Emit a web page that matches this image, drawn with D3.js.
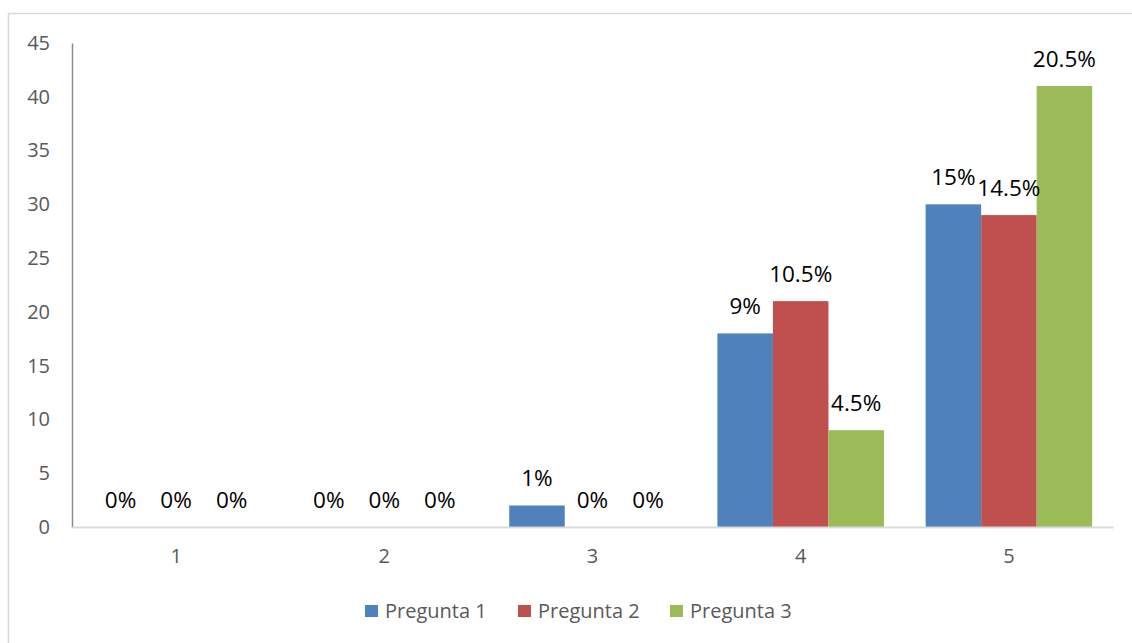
<!DOCTYPE html>
<html>
<head>
<meta charset="utf-8">
<script src="https://cdn.jsdelivr.net/npm/d3@7"></script>
<style>
  html, body { margin: 0; padding: 0; background: #fff; }
  svg { display: block; }
</style>
</head>
<body>
<svg id="chart" width="1132" height="643"></svg>
<script>
// Answer scale points and the number of responses per question
const categories = ["1", "2", "3", "4", "5"];
const seriesNames = ["Pregunta 1", "Pregunta 2", "Pregunta 3"];
const pregunta1 = [0, 0, 2, 18, 30];
const pregunta2 = [0, 0, 0, 21, 29];
const pregunta3 = [0, 0, 0, 9, 41];
const yTicks = [0, 5, 10, 15, 20, 25, 30, 35, 40, 45];
const totalResponses = 200;

const seriesValues = [pregunta1, pregunta2, pregunta3];
const colors = ["#4f81bd", "#c0504d", "#9bbb59"];

const svg = d3.select("#chart");
const font = "'Open Sans', 'Noto Sans', sans-serif";

// outer chart frame
svg.append("rect")
  .attr("x", 8.5).attr("y", 13.5)
  .attr("width", 1140).attr("height", 640)
  .attr("fill", "none").attr("stroke", "#d9d9d9").attr("stroke-width", 1.5);

const plot = { left: 72, right: 1113, top: 43, bottom: 527 };

const x0 = d3.scaleBand().domain(categories)
  .range([plot.left, plot.right]).paddingInner(0.2).paddingOuter(0.1);
const x1 = d3.scaleBand().domain(d3.range(seriesNames.length))
  .range([0, x0.bandwidth()]);
const y = d3.scaleLinear().domain([0, 45]).range([plot.bottom, plot.top]);

// y axis
const yAxis = svg.append("g")
  .attr("transform", `translate(${plot.left},0)`)
  .call(d3.axisLeft(y).tickValues(yTicks).tickSize(0).tickPadding(22));
yAxis.select(".domain").attr("stroke", "#8c8c8c").attr("stroke-width", 1.5);
yAxis.selectAll("text").attr("fill", "#595959")
  .style("font-family", font).style("font-size", "20px");

// bars
const groups = svg.append("g").selectAll("g")
  .data(categories).join("g")
  .attr("transform", d => `translate(${x0(d)},0)`);

groups.selectAll("rect")
  .data((c, ci) => seriesValues.map((vals, si) => ({ si, v: vals[ci] })))
  .join("rect")
  .attr("x", d => x1(d.si))
  .attr("width", x1.bandwidth())
  .attr("y", d => y(d.v))
  .attr("height", d => plot.bottom - y(d.v))
  .attr("fill", d => colors[d.si]);

// value labels as share of all responses
groups.selectAll("text")
  .data((c, ci) => seriesValues.map((vals, si) => ({ si, v: vals[ci] })))
  .join("text")
  .attr("x", d => x1(d.si) + x1.bandwidth() / 2)
  .attr("y", d => y(d.v) - 19)
  .attr("text-anchor", "middle")
  .attr("fill", "#000")
  .style("font-family", font).style("font-size", "22.5px")
  .text(d => d3.format("~r")(d.v / totalResponses * 100) + "%");

// x axis
const xAxis = svg.append("g")
  .attr("transform", `translate(0,${plot.bottom})`)
  .call(d3.axisBottom(x0).tickSize(0).tickPadding(22));
xAxis.select(".domain").attr("stroke", "#d9d9d9").attr("stroke-width", 2);
xAxis.selectAll("text").attr("fill", "#595959")
  .style("font-family", font).style("font-size", "20px");

// legend
const legendX = [365, 518, 670];
const legend = svg.append("g").selectAll("g")
  .data(seriesNames).join("g")
  .attr("transform", (d, i) => `translate(${legendX[i]},605)`);
legend.append("rect")
  .attr("width", 13).attr("height", 12)
  .attr("fill", (d, i) => colors[i]);
legend.append("text")
  .attr("x", 20).attr("y", 13)
  .attr("fill", "#595959")
  .style("font-family", font).style("font-size", "20px")
  .text(d => d);
</script>
</body>
</html>
